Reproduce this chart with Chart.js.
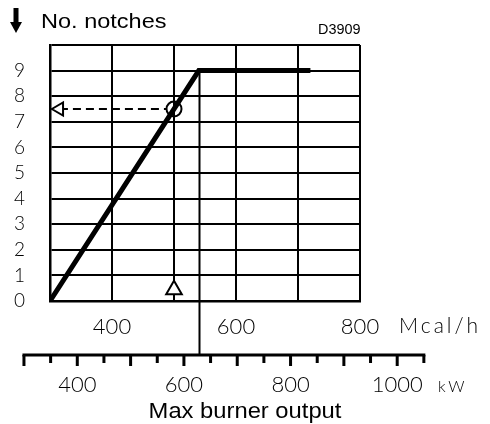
<!DOCTYPE html>
<html>
<head>
<meta charset="utf-8">
<title>No. notches vs max burner output</title>
<script src="https://cdn.jsdelivr.net/npm/chart.js@4.4.1/dist/chart.umd.min.js"></script>
<style>
  html, body { margin: 0; padding: 0; background: #fff; }
  #wrap { width: 490px; height: 424px; }
</style>
</head>
<body>
<div id="wrap"><canvas id="chart" width="490" height="424"></canvas></div>
<script>
/* ============ DATA ============ */
const MCAL_PER_KW = 0.86; // 1 kW = 0.86 Mcal/h

// burner output (Mcal/h) -> number of notches
const outputMcal = [300, 540, 720];
const notches = [0, 9, 9];

// reading example: 500 Mcal/h gives 7.5 notches
const readMcal = [316, 488];
const readNotches = [7.5, 7.5];
const pointMcal = [500];
const pointNotches = [7.5];
const arrowLeftMcal = [315];
const arrowLeftNotches = [7.5];
const arrowUpMcal = [500];
const arrowUpNotches = [0.44];

// axis ticks
const mcalLabels = [400, 600, 800];
const notchLabels = [0, 1, 2, 3, 4, 5, 6, 7, 8, 9];
const kwTicks = [300, 350, 400, 450, 500, 550, 600, 650, 700, 750, 800, 850, 900, 950, 1000, 1050];
const kwLabels = [400, 600, 800, 1000];

/* ============ STYLE ============ */
const THIN = "Lato, 'DejaVu Sans', sans-serif";
const SANS = "'Liberation Sans', Arial, sans-serif";
const KW_AXIS_Y = 355;

const pts = (xs, ys) => xs.map((x, i) => ({ x, y: ys[i] }));

// draw text stretched horizontally
function drawText(ctx, text, x, y, font, sx, align) {
  ctx.save();
  ctx.font = font;
  ctx.textAlign = align || 'left';
  ctx.textBaseline = 'alphabetic';
  ctx.translate(x, y);
  ctx.scale(sx, 1);
  ctx.fillText(text, 0, 0);
  ctx.restore();
}

/* ============ EXTRA DRAWING ============ */
const extras = {
  id: 'extras',
  beforeDatasetsDraw(chart) {
    // drop line from the knee of the curve to the kW scale
    const { ctx, scales: { x, y } } = chart;
    const kx = Math.round(x.getPixelForValue(outputMcal[1])) + 0.5;
    ctx.save();
    ctx.strokeStyle = '#000';
    ctx.lineWidth = 2;
    ctx.beginPath();
    ctx.moveTo(kx, y.getPixelForValue(notches[1]));
    ctx.lineTo(kx, KW_AXIS_Y);
    ctx.stroke();
    ctx.restore();
  },
  afterDraw(chart) {
    const { ctx, scales: { x } } = chart;
    ctx.save();
    ctx.fillStyle = '#000';
    ctx.strokeStyle = '#000';

    // down arrow + y title
    ctx.fillRect(13.5, 8, 5, 15);
    ctx.beginPath();
    ctx.moveTo(10, 22);
    ctx.lineTo(22, 22);
    ctx.lineTo(16, 33);
    ctx.closePath();
    ctx.fill();
    drawText(ctx, 'No. notches', 41, 27.5, `21px ${SANS}`, 1.12);

    drawText(ctx, 'D3909', 318, 34, `14px ${SANS}`, 1.03);

    // Mcal/h unit
    ctx.font = `300 21px ${THIN}`;
    ctx.letterSpacing = '3px';
    ctx.textAlign = 'left';
    ctx.textBaseline = 'middle';
    ctx.fillText('Mcal/h', 399, 326);

    // kW scale
    const kx = (kw) => x.getPixelForValue(kw * MCAL_PER_KW);
    const x0 = kx(kwTicks[0]);
    const x1 = kx(kwTicks[kwTicks.length - 1]);
    ctx.fillRect(x0 - 1.5, KW_AXIS_Y - 1.5, x1 - x0 + 3, 3);
    kwTicks.forEach((kw) => {
      const len = kw % 100 === 0 ? 11 : 8;
      ctx.fillRect(kx(kw) - 1.5, KW_AXIS_Y, 3, len);
    });
    ctx.letterSpacing = '0px';
    ctx.textAlign = 'center';
    ctx.font = `300 22px ${THIN}`;
    kwLabels.forEach((kw) => ctx.fillText(String(kw), kx(kw), 385));
    ctx.font = `300 16px ${THIN}`;
    ctx.letterSpacing = '3px';
    ctx.textAlign = 'left';
    ctx.fillText('kW', 438, 387);
    ctx.letterSpacing = '0px';

    drawText(ctx, 'Max burner output', 245, 418, `22px ${SANS}`, 1.08, 'center');
    ctx.restore();
  },
};

/* ============ CHART ============ */
new Chart(document.getElementById('chart'), {
  type: 'scatter',
  data: {
    datasets: [
      {
        // reading point on the curve
        data: pts(pointMcal, pointNotches),
        pointStyle: 'circle',
        pointRadius: 7.5,
        pointBorderWidth: 2,
        pointBorderColor: '#000',
        pointBackgroundColor: 'rgba(0,0,0,0)',
        order: 0,
      },
      {
        // arrow heads
        data: pts(arrowLeftMcal, arrowLeftNotches),
        pointStyle: 'triangle',
        rotation: -90,
        pointRadius: 7.5,
        pointBorderWidth: 2,
        pointBorderColor: '#000',
        pointBackgroundColor: '#fff',
        order: 0,
      },
      {
        data: pts(arrowUpMcal, arrowUpNotches),
        pointStyle: 'triangle',
        rotation: 0,
        pointRadius: 9,
        pointBorderWidth: 2,
        pointBorderColor: '#000',
        pointBackgroundColor: '#fff',
        order: 0,
      },
      {
        // notches curve
        data: pts(outputMcal, notches),
        showLine: true,
        borderColor: '#000',
        borderWidth: 5,
        pointRadius: 0,
        order: 1,
      },
      {
        // dashed read-off line
        data: pts(readMcal, readNotches),
        showLine: true,
        borderColor: '#000',
        borderWidth: 2,
        borderDash: [8, 5],
        pointRadius: 0,
        order: 2,
      },
    ],
  },
  options: {
    responsive: false,
    animation: false,
    events: [],
    layout: { padding: { top: 45, right: 130, bottom: 0, left: 0 } },
    plugins: {
      legend: { display: false },
      tooltip: { enabled: false },
    },
    scales: {
      x: {
        type: 'linear',
        min: 300,
        max: 800,
        afterFit: (s) => { s.height = 123; },
        border: { display: true, color: '#000', width: 2.5 },
        grid: { color: '#000', lineWidth: 2, drawTicks: false },
        ticks: {
          stepSize: 100,
          autoSkip: false,
          maxRotation: 0,
          padding: 13,
          color: '#000',
          font: { family: THIN, size: 22, weight: 300 },
          callback: (v) => (mcalLabels.includes(v) ? String(v) : ''),
        },
      },
      y: {
        type: 'linear',
        min: 0,
        max: 10,
        afterFit: (s) => { s.width = 50; },
        border: { display: true, color: '#000', width: 2.5 },
        grid: { color: '#000', lineWidth: 2, drawTicks: false },
        ticks: {
          stepSize: 1,
          autoSkip: false,
          padding: 25,
          color: '#000',
          font: { family: THIN, size: 19, weight: 300 },
          callback: (v) => (notchLabels.includes(v) ? String(v) : ''),
        },
      },
    },
  },
  plugins: [extras],
});
</script>
</body>
</html>
